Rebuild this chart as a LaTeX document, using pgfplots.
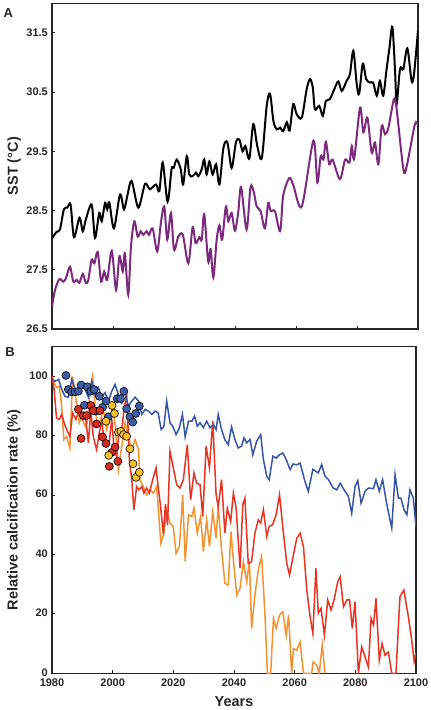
\documentclass[border=0pt]{standalone}
\usepackage{pgfplots}
\pgfplotsset{compat=1.18}
\usepackage{fontspec}
\setmainfont{Liberation Sans}
\definecolor{sstblack}{RGB}{0,0,0}
\definecolor{sstpurple}{RGB}{123,42,125}
\definecolor{lblue}{RGB}{55,85,165}
\definecolor{lred}{RGB}{232,52,36}
\definecolor{lorange}{RGB}{242,146,48}
\definecolor{mblue}{RGB}{62,94,168}
\definecolor{mred}{RGB}{214,45,35}
\definecolor{myellow}{RGB}{246,192,42}
\pgfplotsset{
  common/.style={
    scale only axis,
    clip mode=individual,
    axis line style={draw=black!85,line width=1.1pt},
    tick align=inside, tick pos=left, major tick length=3pt,
    every tick/.style={black!85,line width=0.9pt},
    ticklabel style={font=\bfseries\fontsize{11}{13}\selectfont, text=black!85, inner sep=0.5pt},
    /pgf/number format/assume math mode=true,
    xmin=1980, xmax=2100,
  },
}
\begin{document}
\begin{tikzpicture}
\useasboundingbox (0pt,0pt) rectangle (431pt,710pt);
% Panel A
\begin{axis}[common,
  at={(52pt,381pt)}, anchor=south west,
  width=366pt, height=325.7pt,
  ymin=26.5, ymax=32,
  ytick={26.5,27.5,28.5,29.5,30.5,31.5},
  yticklabel style={/pgf/number format/.cd,fixed,fixed zerofill,precision=1,/tikz/xshift=-3.5pt},
  xtick={2000,2020,2040,2060,2080}, xticklabels={},
  ylabel={SST (°C)},
  every axis y label/.style={at={(axis description cs:-0.1038,0.5)},rotate=90,anchor=center,font=\bfseries\fontsize{14.5}{17}\selectfont,text=black!85},
]
\addplot[sstblack, line width=2pt, smooth, tension=0.5] coordinates {
(1980,28.03) (1981.5,28.14) (1982.6,28.18) (1983.9,28.52) (1985.0,28.55) (1986.1,28.6)
(1987.2,28.05) (1989.0,28.38) (1990.1,28.15) (1991.1,28.35) (1993.0,28.6) (1994.1,28.04)
(1995.5,28.46) (1996.3,28.32) (1997.4,28.63) (1998.1,28.52) (1998.8,28.64) (2000.3,28.2)
(2002.3,28.77) (2003.6,28.52) (2004.7,28.75) (2006.1,29.0) (2008.3,28.55) (2010.5,28.95)
(2012.1,28.86) (2014.1,28.94) (2015.2,28.83) (2016.3,29.31) (2017.9,28.65) (2019.2,29.2)
(2019.9,29.22) (2020.9,29.36) (2022.2,29.2) (2023.0,28.94) (2024.2,29.42) (2025.0,29.11)
(2026.1,29.08) (2027.2,29.14) (2028.0,29.08) (2029.1,29.2) (2029.9,29.36) (2030.7,29.11)
(2031.6,29.33) (2032.7,29.11) (2033.8,29.28) (2034.9,28.94) (2036.2,29.56) (2037.5,29.65)
(2038.9,29.22) (2040.3,29.65) (2041.4,29.7) (2042.5,29.5) (2043.4,29.59) (2044.7,29.38)
(2046.0,29.96) (2047.3,29.59) (2048.8,29.39) (2050.4,30.27) (2051.5,30.47) (2052.6,30.01)
(2053.7,29.87) (2054.8,29.9) (2055.8,29.84) (2057.0,29.99) (2057.9,29.85) (2059.1,30.3)
(2060.2,30.13) (2061.9,30.07) (2063.5,30.55) (2064.6,30.72) (2065.5,30.58) (2066.2,30.21)
(2067.6,30.27) (2068.8,30.1) (2069.8,30.35) (2071.1,30.38) (2072.8,30.58) (2073.9,30.68)
(2075.0,30.52) (2076.6,30.69) (2077.7,30.81) (2078.8,31.2) (2079.9,30.64) (2080.7,30.47)
(2081.9,30.98) (2083.0,30.72) (2084.3,30.66) (2085.3,30.66) (2086.5,30.44) (2087.5,30.69)
(2088.6,30.44) (2089.7,30.89) (2090.6,31.23) (2091.6,31.6) (2092.5,30.83) (2093.0,30.3)
(2094.1,30.89) (2095.2,30.89) (2096.5,31.24) (2097.9,30.69) (2098.7,30.81) (2100,31.54)
};
\addplot[sstpurple, line width=2pt, smooth, tension=0.5] coordinates {
(1980,26.88) (1981.0,27.16) (1982.4,27.34) (1983.7,27.3) (1984.6,27.36) (1985.9,27.55)
(1987.0,27.3) (1988.1,27.33) (1989.0,27.28) (1990.1,27.43) (1991.1,27.28) (1991.9,27.33)
(1993.0,27.67) (1993.9,27.61) (1995.0,27.8) (1996.1,27.3) (1997.1,27.47) (1998.1,27.33)
(1999.6,27.82) (2001.0,27.16) (2002.1,27.73) (2003.2,27.47) (2003.9,27.78) (2005.0,27.08)
(2005.9,27.9) (2007.0,28.32) (2008.1,28.06) (2009.1,28.15) (2009.9,28.09) (2011.0,28.15)
(2011.8,28.09) (2013.0,28.2) (2014.5,27.81) (2015.7,28.29) (2016.8,28.57) (2017.8,28.01)
(2019.0,28.46) (2020.0,27.84) (2021.4,28.06) (2022.9,28.09) (2024.7,27.61) (2026.1,28.22)
(2027.1,27.95) (2028.3,28.05) (2029.1,28.01) (2029.9,28.44) (2031.2,27.64) (2032.0,27.85)
(2032.9,27.37) (2034.0,28.01) (2034.9,28.25) (2035.8,28.01) (2037.0,28.57) (2037.8,28.32)
(2038.9,28.46) (2040.0,28.16) (2041.1,28.49) (2042.0,28.9) (2043.8,28.18) (2045.1,28.9)
(2046.2,28.8) (2047.1,28.57) (2048.4,28.49) (2049.8,28.2) (2050.9,28.63) (2051.7,28.49)
(2053.1,28.49) (2054.8,28.15) (2055.8,28.75) (2057.8,29.05) (2059.1,28.93) (2061.9,28.57)
(2065.7,29.68) (2067.0,28.97) (2068.1,29.42) (2069.0,29.36) (2069.8,29.66) (2070.9,29.28)
(2072.0,29.36) (2074.4,29.03) (2076.1,29.36) (2077.5,29.31) (2078.3,29.59) (2079.1,29.38)
(2081.0,30.24) (2082.1,29.82) (2083.4,30.07) (2084.8,29.48) (2085.9,29.65) (2087.0,29.28)
(2088.1,29.93) (2089.2,29.79) (2090.3,29.9) (2092.1,30.38) (2093.0,30.21) (2095.2,29.2)
(2096.3,29.25) (2099.0,29.96) (2100,29.93)
};
\node[font=\bfseries\fontsize{13}{15}\selectfont, text=black!85] at (axis description cs:-0.119,0.970) {A};
\end{axis}
% Panel B
\begin{axis}[common,
  at={(52pt,36.7pt)}, anchor=south west,
  width=364pt, height=326.6pt,
  ymin=0, ymax=110,
  ytick={0,20,40,60,80,100},
  xtick={1980,2000,2020,2040,2060,2080,2100},
  xticklabel style={/pgf/number format/1000 sep={}, yshift=-5pt},
  yticklabel style={xshift=-3.5pt, yshift=1pt},
  xlabel={Years},
  ylabel={Relative calcification rate (\%)},
  every axis y label/.style={at={(axis description cs:-0.1044,0.5)},rotate=90,anchor=center,font=\bfseries\fontsize{14.5}{17}\selectfont,text=black!85},
  every axis x label/.style={at={(axis description cs:0.5,-0.088)},anchor=center,font=\bfseries\fontsize{14.5}{17}\selectfont,text=black!85},
]
\addplot[lorange, line width=1.5pt] coordinates {
(1980,100) (1980.7,97.9) (1981.5,96.2) (1982.4,96.7) (1983.2,90) (1983.9,78.7) (1984.8,79.8)
(1985.9,75.9) (1986.8,100) (1987.9,92.2) (1989,84.4) (1989.8,86.6) (1990.9,83.2) (1991.6,84.4)
(1992.5,94.5) (1993.4,100) (1994.2,90) (1995,83.2) (1995.8,84.4) (1996.9,88.9) (1998,82.1)
(1999.1,85.5) (2000,90) (2000.8,83.8) (2001.9,68.6) (2003,76.5) (2004.1,84.4) (2005.2,79.8)
(2006.3,75.3) (2007.4,78.7) (2008.5,75.3) (2009,65.2) (2010.1,62.9) (2011.2,60.1) (2012.3,61.8)
(2013.4,60.7) (2014.5,62.9) (2015.9,43.8) (2016.9,47.2) (2017.8,55) (2018.9,50.6) (2020,49.4)
(2020.9,40.4) (2022,42.7) (2023.1,60.1) (2023.9,37.6) (2025,53.4) (2026.1,52.8) (2026.8,55.6)
(2027.9,47.2) (2029,52.8) (2029.9,41) (2031,51.7) (2031.9,42.7) (2033,54.5) (2034.1,45.5)
(2034.8,56.8) (2035.9,41.6) (2037,30.3) (2038.1,29.7) (2039,47.7) (2040,35.9) (2040.9,26.4)
(2042,28.6) (2043.1,37.6) (2044.2,30.8) (2045.1,37.6) (2045.8,15.1) (2046.9,26.4) (2048,34.8)
(2049.1,39.3) (2050.2,20.2) (2051,0) (2052.1,0) (2053,18.5) (2053.9,15.1) (2055,19.6)
(2056.1,20.7) (2057.2,12.8) (2058,19.6) (2059,0) (2059.6,8.3) (2060.7,7.8) (2061.8,10.6)
(2062.9,0) (2065.6,0) (2066.1,3.8) (2067.3,2.7) (2068.1,0) (2069.1,9.5) (2070,0)
};
\addplot[lred, line width=1.5pt] coordinates {
(1980,100) (1980.7,95.6) (1981.5,86) (1982.4,85.5) (1983.2,87.2) (1984,84.4) (1984.8,82.1)
(1985.9,79.8) (1986.8,87.7) (1987.9,85.5) (1989,88.9) (1990.1,85.5) (1991,86.6) (1992,77.6)
(1992.8,88.3) (1993.6,79.8) (1994.7,75.3) (1995.6,81) (1996.4,84.9) (1997.1,79.3) (1998,76.5)
(1998.9,78.2) (1999.7,85.5) (2000.4,76.5) (2001.3,73.1) (2002.2,82.1) (2003,82.1) (2003.7,88.3)
(2004.6,94.5) (2005.5,72) (2006.3,65.2) (2007,55.1) (2007.9,62.9) (2008.7,61.8) (2009.6,62.9)
(2010.3,60.7) (2011.2,62.4) (2012.1,60.7) (2013.2,65.2) (2014.3,69.2) (2015,62.9) (2015.8,56.1)
(2016.7,47) (2017.4,57) (2018.1,50) (2018.9,74.8) (2020,69.2) (2021.1,63.5) (2022.2,62.4)
(2023.3,65.2) (2024.6,77) (2025.7,58.4) (2026.8,67.5) (2027.7,64) (2028.8,63.5) (2029.7,52.8)
(2030.8,76.5) (2031.9,69.2) (2033,84.9) (2034.1,60.1) (2034.8,56.1) (2035.9,65.2) (2037,47.2)
(2037.8,55.6) (2038.9,51.1) (2039.8,60.7) (2040.7,55.6) (2042,35.4) (2042.9,56.8) (2043.6,59)
(2044.7,37) (2045.8,37.6) (2046.9,47.2) (2048,51.7) (2048.8,50.6) (2049.7,55.1) (2050.8,46.1)
(2051.6,49.5) (2052.7,50) (2053.9,53.4) (2055,60.1) (2056.3,47.2) (2057.4,37) (2058.3,33.1)
(2059.6,39.9) (2060.7,45.5) (2061.8,47.2) (2062.9,42.7) (2064,28) (2065.1,19) (2066,13.4)
(2067,35.4) (2067.8,20.2) (2068.7,21.9) (2069.8,12.8) (2070.9,24.7) (2072,21.3) (2073.1,25.2)
(2074.2,30.8) (2075,32.5) (2076.1,22.4) (2077.2,24.7) (2078.1,24.7) (2079,15.1) (2079.9,24.1)
(2081,0) (2082.1,8.9) (2083.2,5.5) (2084.3,2.1) (2085.2,18.5) (2086,16.2) (2086.8,25.2)
(2087.9,4.4) (2088.8,10) (2089.8,6.1) (2090.9,7.2) (2092,0) (2093.4,0) (2094.7,25.8)
(2096,28) (2097.5,19) (2098.6,11.1) (2099.4,4) (2100,7)
};
\addplot[lblue, line width=1.5pt] coordinates {
(1980,99) (1981.1,98.4) (1982.2,99) (1983.2,95.6) (1984.3,93.3) (1985.4,93) (1986.5,99)
(1987.6,95.6) (1988.7,94.5) (1989.8,96.7) (1990.9,95.6) (1992,93) (1993.1,98.4) (1994.2,93.9)
(1995.3,96.2) (1996.4,93) (1997.5,94.5) (1998.6,91.7) (1999.7,95) (2000.8,97.3) (2001.9,93.9)
(2003,91.1) (2003.7,95.6) (2005.2,90) (2006.3,91.7) (2007.4,93) (2008.5,91.7) (2009.6,87.2)
(2010.7,88.9) (2011.8,88.3) (2012.9,87.2) (2014,88.3) (2015,87.7) (2016,82.1) (2016.9,83.2)
(2017.8,91.7) (2018.9,84.4) (2019.8,83.2) (2020.9,80.4) (2022,82.7) (2023,87.2) (2023.9,79.6)
(2025,84.9) (2026.1,84.9) (2027,86.6) (2027.9,83.2) (2028.8,84.4) (2029.9,82.7) (2031,84.9)
(2032.1,82.7) (2033.2,83.8) (2034.1,82.1) (2034.8,87.2) (2035.9,82.1) (2037,78.7) (2038.1,77)
(2039.2,83) (2040.3,78.7) (2041.4,75.9) (2042.5,76.5) (2043.3,79.3) (2044.2,77.6) (2045.3,78.7)
(2046.2,73.6) (2047.5,78.2) (2048.8,80.4) (2049.7,72) (2050.8,66.3) (2051.6,65.2) (2052.8,73.1)
(2053.9,72.5) (2055,73.6) (2056.1,74.2) (2057.2,72) (2058.5,68.6) (2059.5,70.5) (2060.6,70.2)
(2061.8,70.8) (2063.4,64.6) (2064.5,61.3) (2066,68.7) (2067.8,67.5) (2068.9,70.3) (2070,66.4)
(2071.1,65.3) (2072.7,62.4) (2073.9,61.8) (2075,64) (2076.3,61.8) (2077.7,59.6) (2078.8,53.9)
(2079.9,62.9) (2080.8,64.9) (2081.9,57.3) (2083.2,61.3) (2084.3,62.4) (2086,62.2) (2086.8,65.2)
(2087.9,61.3) (2089,65.2) (2090.3,57.3) (2092,48.9) (2093.1,66.9) (2094.2,59) (2095,59)
(2096.1,55) (2097,53.4) (2098,61.8) (2099.1,59) (2100,49.4)
};
\addplot[only marks, mark=*, mark size=4pt, mark options={fill=mblue, draw=black, line width=0.6pt}] coordinates {
(1984.6,100.3) (1985.4,95.6) (1986.5,94.8) (1987.6,94.8) (1988.7,95) (1989.6,97.1) (1990.7,90.3)
(1991.6,96.5) (1992.8,95) (1993.9,95.6) (1994.5,88.3) (1995.6,93.3) (1996.7,89.6) (1997.8,91.7)
(1998.6,86.4) (2001.5,92.5) (2002.6,92.5) (2003.7,95) (2004.6,89.1) (2005.7,86.4) (2006.6,84.6)
(2007.6,87.5) (2008.8,90)
};
\addplot[only marks, mark=*, mark size=4pt, mark options={fill=mred, draw=black, line width=0.6pt}] coordinates {
(1988.7,88.9) (1989.6,79.1) (1990.3,86.8) (1991.4,86.8) (1992.8,90.2) (1993.6,88.5) (1994.7,84)
(1995.8,88.5) (1996.7,79.6) (1997.8,77.4) (1998.9,69.7) (1999.7,74.4) (2000.8,76.2) (2001.7,71.4)
};
\addplot[only marks, mark=*, mark size=4pt, mark options={fill=myellow, draw=black, line width=0.6pt}] coordinates {
(1997.8,84.9) (1998.7,73.4) (1999.8,90.2) (2000.6,87.5) (2001.9,81.2) (2002.7,81.5) (2003.6,80.4)
(2004.6,79.8) (2005.7,75.6) (2006.7,70.6) (2007.7,66) (2008.8,67.7)
};
\node[font=\bfseries\fontsize{13}{15}\selectfont, text=black!85] at (axis description cs:-0.1154,0.984) {B};
\end{axis}
\end{tikzpicture}
\end{document}
